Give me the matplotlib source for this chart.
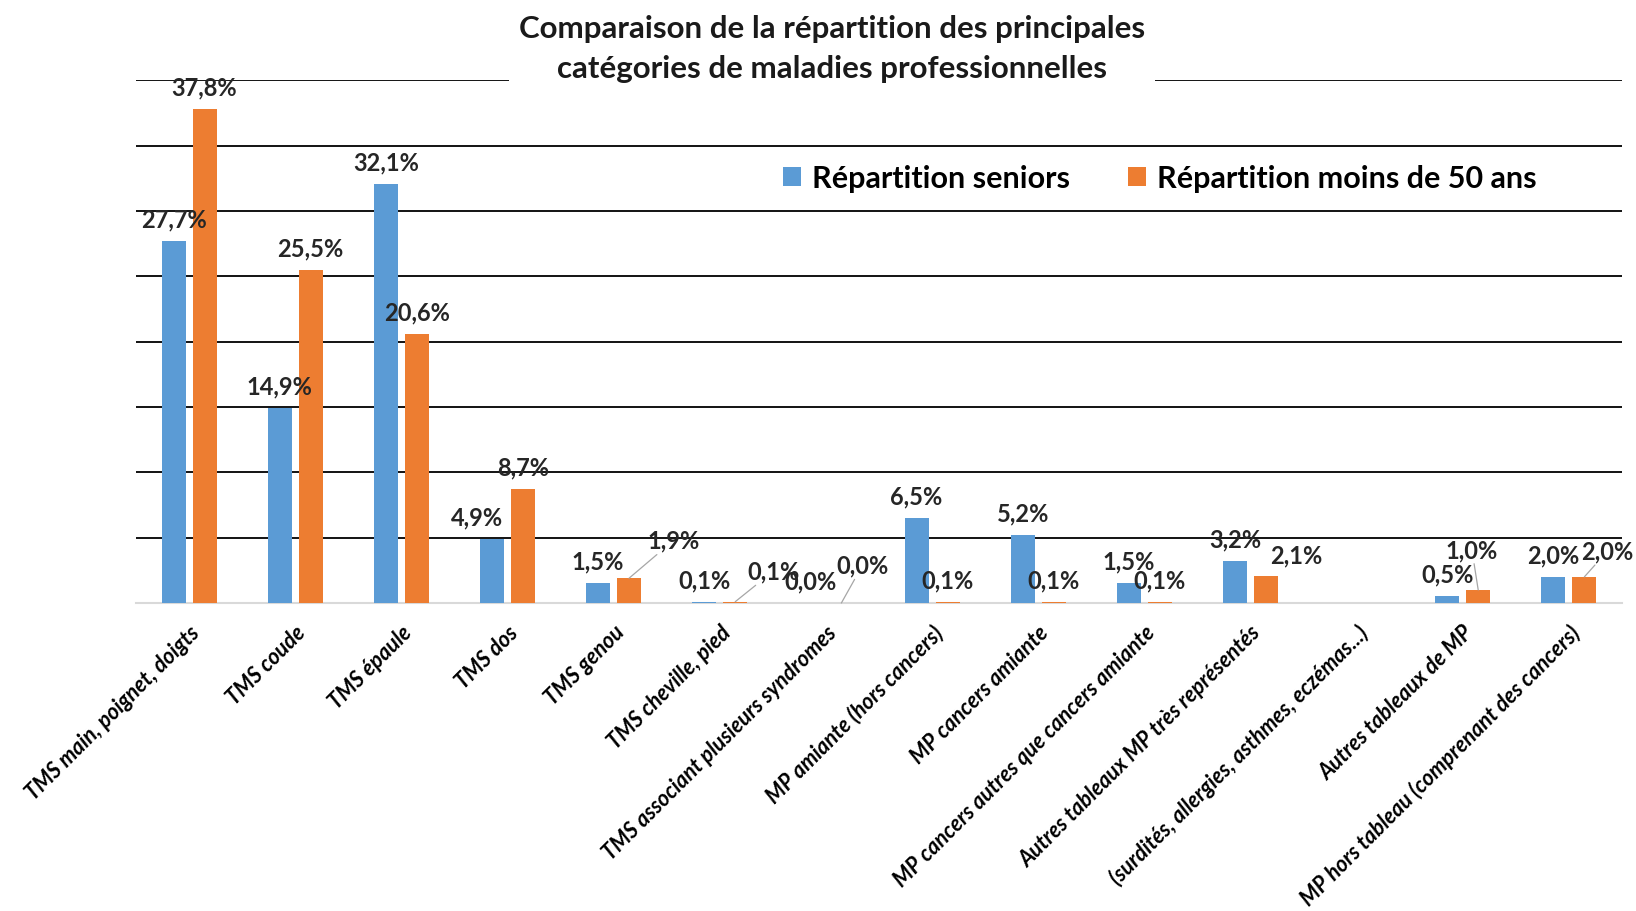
import numpy as np
import matplotlib.pyplot as plt

# Data (%)
categories = [
    'TMS main, poignet, doigts',
    'TMS coude',
    'TMS épaule',
    'TMS dos',
    'TMS genou',
    'TMS cheville, pied',
    'TMS associant plusieurs syndromes',
    'MP amiante (hors cancers)',
    'MP cancers amiante',
    'MP cancers autres que cancers amiante',
    'Autres tableaux MP très représentés',
    '(surdités, allergies, asthmes, eczémas...)',
    'Autres tableaux de MP',
    'MP hors tableau (comprenant des cancers)',
]
seniors = [27.7, 14.9, 32.1, 4.9, 1.5, 0.1, 0.0, 6.5, 5.2, 1.5, 3.2, np.nan, 0.5, 2.0]
moins_50 = [37.8, 25.5, 20.6, 8.7, 1.9, 0.1, 0.0, 0.1, 0.1, 0.1, 2.1, np.nan, 1.0, 2.0]
series_names = ['Répartition seniors', 'Répartition moins de 50 ans']
title = 'Comparaison de la répartition des principales\ncatégories de maladies professionnelles'

# Manual nudges of some data labels (as in the original chart)
sen_dx = [0, 0, 0, -0.14, 0, 0, 0, 0, 0, 0, 0, 0, 0, 0]
sen_dy = [0] * 14
moins_dx = [0, 0, 0, 0, 0.42, 0.36, 0.2, 0, 0, 0, 0.29, 0, -0.06, 0.22]
moins_dy = [0, 0, 0, 0, 1.2, 0.65, 1.2, 0, 0, 0, -0.1, 0, 1.4, 0.3]
moins_leader = [False, False, False, False, True, True, True, False, False, False, False, False, True, True]

blue = '#5B9BD5'
orange = '#ED7D31'
plt.rcParams['font.family'] = ['Lato', 'DejaVu Sans']

fig = plt.figure(figsize=(16.36, 9.12), dpi=100)
ax = fig.add_axes([0.0831, 0.3377, 0.9083, 0.573])

x = np.arange(len(categories))
w = 0.226
off = 0.146
ax.bar(x - off, seniors, w, color=blue, label=series_names[0], zorder=3)
ax.bar(x + off, moins_50, w, color=orange, label=series_names[1], zorder=3)


def fmt(v):
    return ('%.1f%%' % v).replace('.', ',')


lab_gap = 1.7
lab_size = 17
for i in range(len(categories)):
    if not np.isnan(seniors[i]):
        ax.text(x[i] - off + sen_dx[i], seniors[i] + lab_gap + sen_dy[i], fmt(seniors[i]),
                ha='center', va='center', fontsize=lab_size, fontweight='bold', color='#262626', zorder=5)
    if not np.isnan(moins_50[i]):
        pos = (x[i] + off + moins_dx[i], moins_50[i] + lab_gap + moins_dy[i])
        if moins_leader[i]:
            ax.annotate(fmt(moins_50[i]), xy=(x[i] + off, moins_50[i]), xytext=pos,
                        ha='center', va='center', fontsize=lab_size, fontweight='bold', color='#262626',
                        arrowprops=dict(arrowstyle='-', color='#A6A6A6', lw=0.9,
                                        shrinkA=0, shrinkB=0), zorder=5)
        else:
            ax.text(pos[0], pos[1], fmt(moins_50[i]), ha='center', va='center',
                    fontsize=lab_size, fontweight='bold', color='#262626', zorder=5)

# axes styling: black gridlines, no y labels, light baseline
ax.set_xlim(-0.5, len(categories) - 0.5)
ax.set_ylim(0, 40)
ax.set_yticks(np.arange(5, 45, 5))
ax.yaxis.grid(True, color='black', lw=1.3, zorder=0)
ax.tick_params(axis='y', length=0, labelleft=False)
for s in ['top', 'right', 'left']:
    ax.spines[s].set_visible(False)
ax.spines['bottom'].set_color('#D9D9D9')
ax.spines['bottom'].set_linewidth(1.5)

ax.set_xticks(x)
ax.set_xticklabels(categories, rotation=45, ha='right', rotation_mode='anchor',
                   fontsize=15.5, fontweight='bold', fontstyle='italic')
ax.tick_params(axis='x', length=0, pad=13)

# title with white box over the top gridline
fig.text(0.5086, 0.9465, title, ha='center', va='center', fontsize=22.5, fontweight='bold',
         linespacing=1.5, color='#1a1a1a',
         bbox=dict(facecolor='white', edgecolor='none', pad=7), zorder=10)

ax.legend(loc='center left', bbox_to_anchor=(0.4786, 0.8037), bbox_transform=fig.transFigure,
          frameon=False, ncol=2, prop={'weight': 'bold', 'size': 22},
          handlelength=0.6, handleheight=0.6, handletextpad=0.35, columnspacing=1.9,
          borderpad=0, borderaxespad=0)

plt.savefig('out.png', dpi=100)
